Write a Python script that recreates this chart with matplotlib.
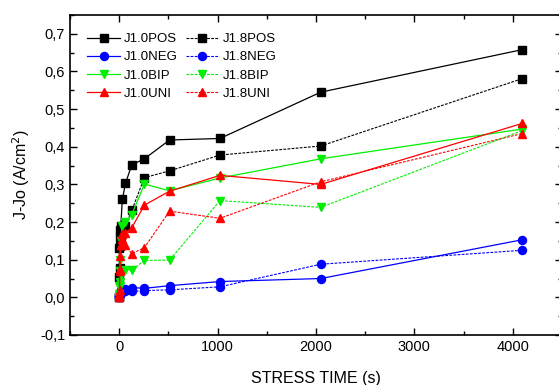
import numpy as np
import matplotlib
matplotlib.use("Agg")
import matplotlib.pyplot as plt
from matplotlib.ticker import MultipleLocator, FuncFormatter

plt.rcParams['font.family'] = ['Liberation Sans', 'DejaVu Sans']

# stress time (s)
t = [0, 2, 4, 8, 16, 32, 64, 128, 256, 512, 1024, 2048, 4096]

j10_pos = [0.0, 0.13, 0.16, 0.18, 0.19, 0.26, 0.303, 0.352, 0.368, 0.418, 0.422, 0.545, 0.658]
j18_pos = [0.0, 0.053, 0.079, 0.137, 0.163, 0.18, 0.19, 0.231, 0.318, 0.336, 0.378, 0.402, 0.581]
j10_neg = [0.0, 0.005, 0.01, 0.015, 0.02, 0.02, 0.022, 0.026, 0.024, 0.031, 0.042, 0.05, 0.153]
j18_neg = [0.0, 0.003, 0.007, 0.01, 0.012, 0.015, 0.018, 0.016, 0.018, 0.02, 0.028, 0.088, 0.125]
j10_bip = [0.0, 0.03, 0.07, 0.1, 0.15, 0.19, 0.2, 0.22, 0.301, 0.283, 0.317, 0.368, 0.447]
j18_bip = [0.0, 0.01, 0.03, 0.04, 0.06, 0.07, 0.072, 0.073, 0.098, 0.099, 0.257, 0.239, 0.443]
j10_uni = [0.0, 0.005, 0.07, 0.11, 0.14, 0.155, 0.172, 0.185, 0.245, 0.282, 0.324, 0.300, 0.462]
j18_uni = [0.0, 0.01, 0.02, 0.076, 0.14, 0.168, 0.138, 0.116, 0.132, 0.229, 0.21, 0.307, 0.435]

fig = plt.figure(figsize=(5.59, 3.85), dpi=100)
ax = fig.add_axes([70 / 559, 50 / 385, 492 / 559, 320 / 385])

solid = dict(linestyle='-', linewidth=0.9)
dash = dict(linestyle=(0, (2.5, 1.2)), linewidth=0.8)

series = [
    (j10_pos, 'J1.0POS', 'black', 's', solid),
    (j18_pos, 'J1.8POS', 'black', 's', dash),
    (j10_neg, 'J1.0NEG', 'blue', 'o', solid),
    (j18_neg, 'J1.8NEG', 'blue', 'o', dash),
    (j10_bip, 'J1.0BIP', '#00ee00', 'v', solid),
    (j18_bip, 'J1.8BIP', '#00ee00', 'v', dash),
    (j10_uni, 'J1.0UNI', 'red', '^', solid),
    (j18_uni, 'J1.8UNI', 'red', '^', dash),
]

handles = {}
for y, name, col, mk, ls in series:
    h, = ax.plot(t, y, color=col, marker=mk, markersize=5.8, label=name, **ls)
    handles[name] = h

order = ['J1.0POS', 'J1.0NEG', 'J1.0BIP', 'J1.0UNI',
         'J1.8POS', 'J1.8NEG', 'J1.8BIP', 'J1.8UNI']
ax.legend([handles[n] for n in order], order, ncol=2, frameon=False,
          loc='upper left', bbox_to_anchor=(0.024, 0.96), fontsize=9.5,
          handlelength=2.5, handletextpad=0.3, columnspacing=0.6,
          labelspacing=0.45, borderaxespad=0.0)

ax.set_xlim(-500, 4500)
ax.set_ylim(-0.1, 0.75)
ax.xaxis.set_major_locator(MultipleLocator(1000))
ax.xaxis.set_minor_locator(MultipleLocator(500))
ax.yaxis.set_major_locator(MultipleLocator(0.1))
ax.yaxis.set_minor_locator(MultipleLocator(0.05))
ax.yaxis.set_major_formatter(FuncFormatter(lambda v, p: f"{v:.1f}".replace('.', ',').replace('-0,0', '0,0')))
ax.tick_params(which='both', direction='in', top=True, right=True, labelsize=10.5)
ax.tick_params(which='major', length=5, width=1)
ax.tick_params(which='minor', length=3, width=1)
for s in ax.spines.values():
    s.set_linewidth(1.2)

ax.set_xlabel('STRESS TIME (s)', fontsize=11.5, labelpad=12)
ax.set_ylabel('J-Jo (A/cm$^2$)', fontsize=11.5, labelpad=6)

fig.savefig('out.png', dpi=100)
